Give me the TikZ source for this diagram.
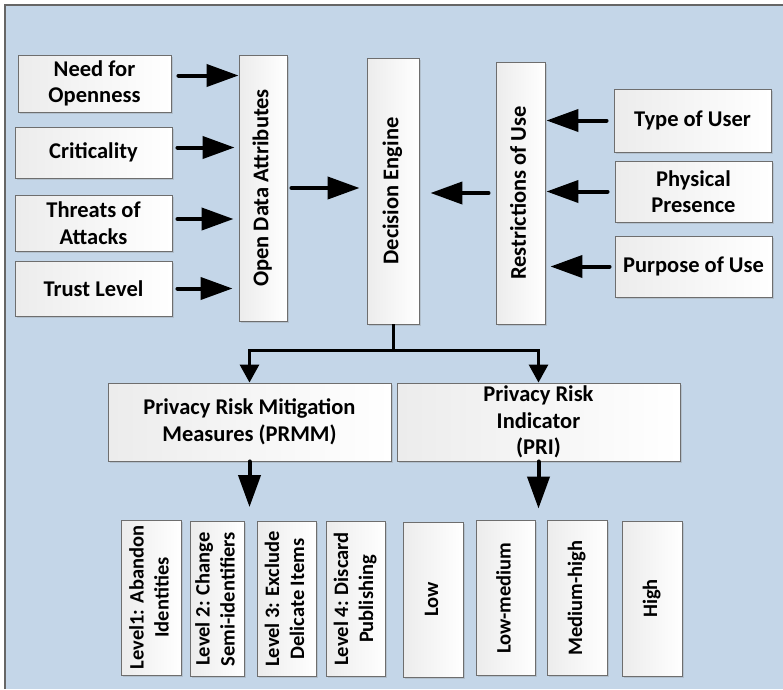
\documentclass[tikz,border=0pt]{standalone}
\usepackage{fontspec}
\setmainfont{Carlito}
\usepackage{graphicx}
\usetikzlibrary{arrows.meta,shadows,calc}

\definecolor{panelblue}{HTML}{C4D6E8}
\definecolor{boxline}{HTML}{6E6E6E}

% text turned to read upwards, one or more lines
\newcommand{\uptext}[1]{\rotatebox{90}{\begin{tabular}{@{}c@{}}#1\end{tabular}}}

\tikzset{
  box/.style={draw=boxline, line width=0.9pt, left color=gray!15, right color=white,
              inner sep=0pt, align=center,
              font=\fontsize{22.5}{26.5}\selectfont\bfseries,
              drop shadow={shadow xshift=1.5pt, shadow yshift=-1.5pt, opacity=0.25}},
  sidebox/.style={box, minimum width=157pt, minimum height=#1},
  colbox/.style={box, minimum height=266pt, minimum width=#1},
  lvlbox/.style={box, minimum height=155pt, minimum width=#1,
                 font=\fontsize{20.5}{25}\selectfont\bfseries},
  bigarrow/.style={line width=4pt, line cap=round, -{Triangle[length=32pt,width=22pt]}},
  joinarrow/.style={line width=3pt, -{Triangle[length=18pt,width=19pt]}}
}

\begin{document}
\begin{tikzpicture}[x=1pt, y=-1pt]
  \useasboundingbox (0,0) rectangle (783,689);
  \fill[panelblue] (5,5) rectangle (783,689);
  \draw[gray!80!black, line width=1.2pt] (5,689) -- (5,5) -- (783,5);

  % left inputs
  \node[sidebox=57pt, minimum width=153pt] (need) at (94.5,83.5) {Need for\\Openness};
  \node[sidebox=51pt] (crit) at (93.5,152.5) {Criticality};
  \node[sidebox=56pt] (threat) at (93.5,223) {Threats of\\Attacks};
  \node[sidebox=55pt] (trust) at (93.5,288.5) {Trust Level};

  % middle columns
  \node[colbox=48pt] (oda) at (263,188) {\uptext{Open Data Attributes}};
  \node[colbox=52pt] (engine) at (393,191) {\uptext{Decision Engine}};
  \node[colbox=49pt, minimum height=262pt] (rou) at (520.5,193) {\uptext{Restrictions of Use}};

  % right inputs
  \node[sidebox=63pt] (usertype) at (692.5,120.5) {Type of User};
  \node[sidebox=61pt] (presence) at (693.5,191.5) {Physical\\Presence};
  \node[sidebox=61pt] (purpose) at (693.5,266.5) {Purpose of Use};

  % outputs
  \node[box, minimum width=283pt, minimum height=78pt] (prmm) at (249.5,422)
       {Privacy Risk Mitigation\\Measures (PRMM)};
  \node[box, minimum width=283pt, minimum height=78pt] (pri) at (538.5,422)
       {Privacy Risk\\Indicator\\(PRI)};

  % mitigation levels
  \node[lvlbox=60pt] (lvlA) at (151,597.5) {\uptext{Level1: Abandon\\Identities}};
  \node[lvlbox=54pt] (lvlB) at (217,599) {\uptext{Level 2: Change\\Semi-identifiers}};
  \node[lvlbox=59pt] (lvlC) at (286.5,599) {\uptext{Level 3: Exclude\\Delicate Items}};
  \node[lvlbox=59pt] (lvlD) at (355.5,599) {\uptext{Level 4: Discard\\Publishing}};

  % risk levels
  \node[lvlbox=60pt] (low) at (433,599.5) {\uptext{Low}};
  \node[lvlbox=59pt] (lowmed) at (505.5,598) {\uptext{Low-medium}};
  \node[lvlbox=60pt] (medhigh) at (577,598) {\uptext{Medium-high}};
  \node[lvlbox=60pt] (high) at (652,598.5) {\uptext{High}};

  % arrows into the columns
  \draw[bigarrow, shorten <=7pt] ([yshift=8pt]need.east) -- ($(need.east -| oda.west)+(0,8pt)$);
  \draw[bigarrow, shorten <=5pt, shorten >=4pt] ([yshift=5pt]crit.east) -- ($(crit.east -| oda.west)+(0,5pt)$);
  \draw[bigarrow, shorten <=5pt, shorten >=5pt] ([yshift=4pt]threat.east) -- ($(threat.east -| oda.west)+(0,4pt)$);
  \draw[bigarrow, shorten <=5pt, shorten >=6pt] (trust.east) -- (trust.east -| oda.west);

  \draw[bigarrow, shorten <=7pt, shorten >=1pt] (usertype.west) -- (usertype.west -| rou.east);
  \draw[bigarrow, shorten <=7pt, shorten >=1pt] (presence.west) -- (presence.west -| rou.east);
  \draw[bigarrow, shorten <=5pt, shorten >=5pt] (purpose.west) -- (purpose.west -| rou.east);

  \draw[bigarrow, shorten <=4pt, shorten >=7pt] (oda.east) -- (oda.east -| engine.west);
  \draw[bigarrow, shorten <=7pt, shorten >=11pt] (rou.west) -- (rou.west -| engine.east);

  % split to the outputs
  \coordinate (split) at ([yshift=-26pt]engine.south);
  \draw[joinarrow] (engine.south) -- (split) -| (prmm.north);
  \draw[joinarrow] (split) -| (pri.north);

  \draw[bigarrow, shorten >=14pt] (prmm.south) -- (prmm.south |- lvlC.north);
  \draw[bigarrow, shorten >=13pt] (pri.south) -- (pri.south |- low.north);
\end{tikzpicture}
\end{document}
